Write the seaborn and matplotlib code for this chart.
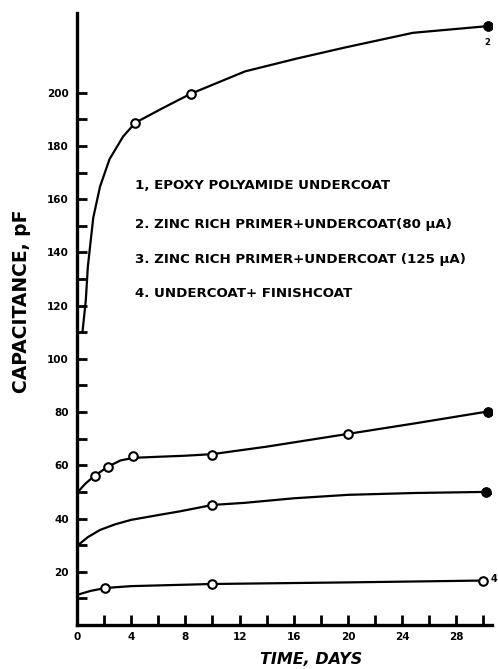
import pandas as pd
import seaborn as sns
import matplotlib.pyplot as plt
from matplotlib.ticker import MultipleLocator

# traced curves (days, pF)
top_days = [0.4, 0.65, 0.8, 1.2, 1.7, 2.4, 3.4, 4.3, 6.4, 8.4, 12.4, 16.2, 19.8, 24.8, 30.3]
top_cap = [109.8, 122, 134.6, 153, 164.7, 175, 183.5, 188.7, 194.4, 199.6, 208, 212.8, 217, 222.5, 225]

upper_days = [0, 0.6, 1.3, 2.3, 3.2, 4.15, 6, 8, 10, 14, 20, 25, 30.3, 30.5]
upper_cap = [49.6, 53, 56.1, 59.5, 61.8, 62.8, 63.2, 63.6, 64.2, 67, 71.8, 75.8, 80.2, 80.5]

mid_days = [0, 0.8, 1.7, 2.8, 4, 6, 7.6, 10, 12.4, 16, 20, 25, 30.2, 30.6]
mid_cap = [29.7, 33, 35.7, 37.8, 39.5, 41.3, 42.7, 45.1, 45.9, 47.6, 48.9, 49.6, 50.0, 49.2]

low_days = [0, 1, 2.1, 4, 10, 20, 30]
low_cap = [11.3, 12.8, 13.9, 14.6, 15.4, 16.0, 16.7]

# measured points (circles)
pt_days = [4.3, 8.4, 1.3, 2.3, 4.15, 10.0, 20.0, 10.0, 2.1, 10.0, 30.0]
pt_cap = [188.7, 199.6, 56.1, 59.5, 63.5, 64.0, 71.8, 45.1, 13.9, 15.4, 16.7]
end_days = [30.3, 30.3, 30.2]
end_cap = [225, 80.2, 50.0]

legend_lines = [
    "1, EPOXY POLYAMIDE UNDERCOAT",
    "2. ZINC RICH PRIMER+UNDERCOAT(80 \u03bcA)",
    "3. ZINC RICH PRIMER+UNDERCOAT (125 \u03bcA)",
    "4. UNDERCOAT+ FINISHCOAT",
]
legend_y = [165, 150.5, 137.5, 124.5]

curves = pd.concat([
    pd.DataFrame({"days": top_days, "cap": top_cap, "curve": "a"}),
    pd.DataFrame({"days": upper_days, "cap": upper_cap, "curve": "b"}),
    pd.DataFrame({"days": mid_days, "cap": mid_cap, "curve": "c"}),
    pd.DataFrame({"days": low_days, "cap": low_cap, "curve": "d"}),
])
points = pd.DataFrame({"days": pt_days, "cap": pt_cap})
ends = pd.DataFrame({"days": end_days, "cap": end_cap})

sns.set_style("ticks")
plt.rcParams["font.family"] = ["DejaVu Sans"]
plt.rcParams["text.color"] = "black"
plt.rcParams["xtick.color"] = "black"
plt.rcParams["ytick.color"] = "black"
plt.rcParams["axes.labelcolor"] = "black"
plt.rcParams["axes.edgecolor"] = "black"

fig = plt.figure(figsize=(4.98, 6.69), dpi=100)
ax = fig.add_axes([0.1546, 0.0658, 0.8325, 0.915])

sns.lineplot(data=curves, x="days", y="cap", units="curve", estimator=None,
             sort=False, color="black", linewidth=1.6, ax=ax, legend=False)
sns.scatterplot(data=points, x="days", y="cap", marker="o", s=38,
                facecolor="white", edgecolor="black", linewidth=1.5, ax=ax, zorder=3)
sns.scatterplot(data=ends, x="days", y="cap", marker="o", s=50,
                color="black", edgecolor="black", ax=ax, zorder=3)

ax.set_xlim(0, 30.6)
ax.set_ylim(0, 230)
ax.xaxis.set_major_locator(MultipleLocator(4))
ax.xaxis.set_minor_locator(MultipleLocator(2))
ax.set_yticks(range(20, 201, 20))
ax.set_yticks(range(10, 201, 10), minor=True)
ax.tick_params(axis="both", which="both", direction="in", length=7, width=2, pad=5)
ax.tick_params(axis="y", which="both", pad=6)
for lab in ax.get_xticklabels() + ax.get_yticklabels():
    lab.set_fontsize(7.5)
    lab.set_fontweight("bold")

sns.despine(ax=ax)
for s in ["left", "bottom"]:
    ax.spines[s].set_linewidth(2.4)

ax.set_xlabel("TIME, DAYS", fontsize=11.5, fontweight="bold", fontstyle="italic")
ax.xaxis.set_label_coords(0.565, -0.0572)
ax.xaxis.label.set_va("center")
ax.set_ylabel("CAPACITANCE, pF", fontsize=13.5, fontweight="bold")
ax.yaxis.set_label_coords(-0.133, 0.529)
ax.yaxis.label.set_va("center")

for txt, yy in zip(legend_lines, legend_y):
    ax.text(4.3, yy, txt, fontsize=9.6, fontweight="bold", va="center", ha="left")

ax.text(30.3, 219, "2", fontsize=6, fontweight="bold", ha="center", va="center")
fig.text(0.999, 0.135, "4", fontsize=7, fontweight="bold", ha="right", va="center")

fig.savefig("out.png", dpi=100)
